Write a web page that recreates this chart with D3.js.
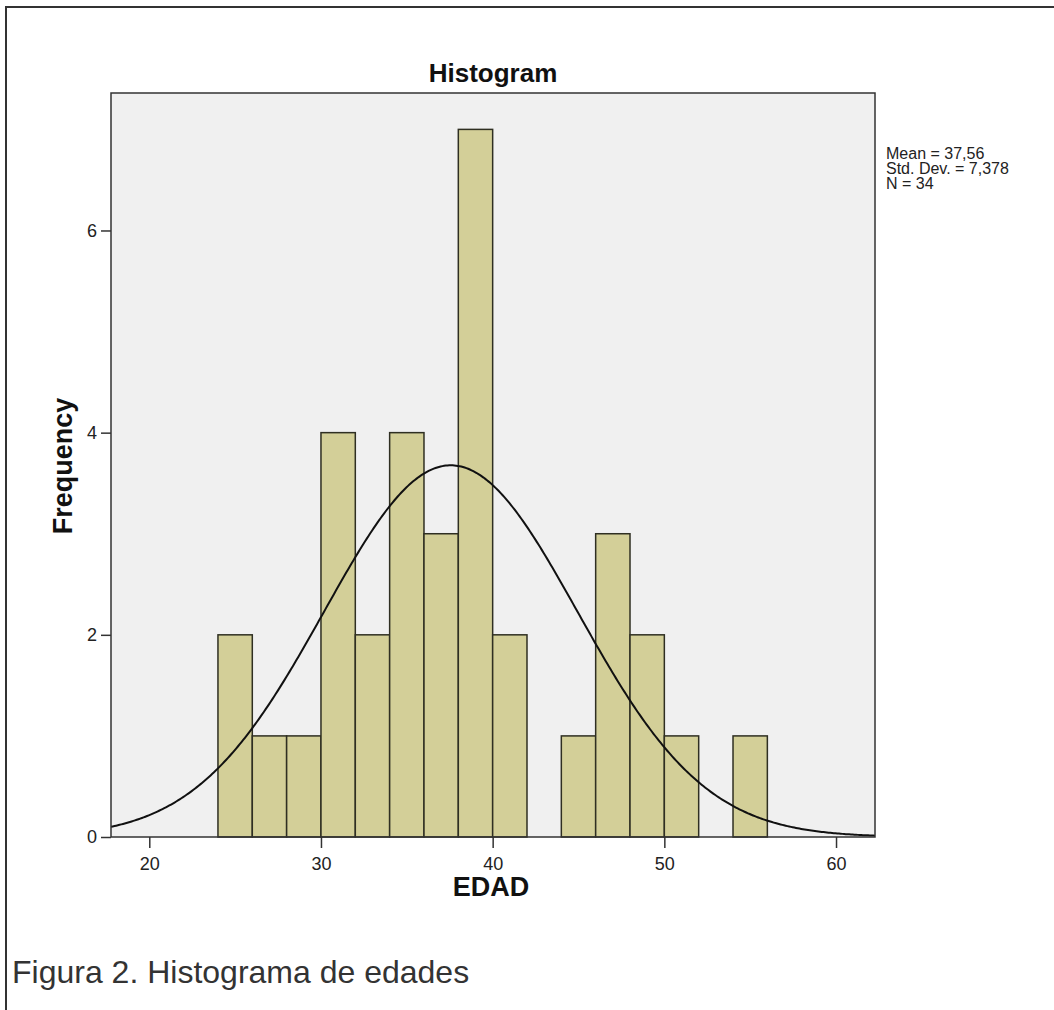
<!DOCTYPE html>
<html>
<head>
<meta charset="utf-8">
<script src="https://cdn.jsdelivr.net/npm/d3@7"></script>
<style>
  body { margin: 0; background: #fff; }
  svg { display: block; font-family: Arial, "Liberation Sans", sans-serif; }
</style>
</head>
<body>
<svg id="chart"></svg>
<script>
// bins of EDAD (start, end) and counts
let binStarts = [24, 26, 28, 30, 32, 34, 36, 38, 40, 42, 44, 46, 48, 50, 52, 54]
let binWidth = 2
let counts = [2, 1, 1, 4, 2, 4, 3, 7, 2, 0, 1, 3, 2, 1, 0, 1]
let xTicks = [20, 30, 40, 50, 60]
let yTicks = [0, 2, 4, 6]
let mean = 37.56
let sd = 7.378
let n = 34
let statsLines = ["Mean = 37,56", "Std. Dev. = 7,378", "N = 34"]

let width = 1054
let height = 1010
let padLeft = 111, padRight = 875, padTop = 93, padBottom = 837

let svg = d3.select('#chart').attr('width', width).attr('height', height)

// outer frame
svg.append('path')
   .attr('d', 'M6,1010 V7 H1054')
   .attr('fill', 'none')
   .attr('stroke', '#333')
   .attr('stroke-width', 2)

let xScale = d3.scaleLinear().domain([17.77, 62.27]).range([padLeft, padRight])
let yScale = d3.scaleLinear().domain([0, 7.36]).range([padBottom, padTop])

svg.append('rect')
   .attr('x', padLeft).attr('y', padTop)
   .attr('width', padRight - padLeft).attr('height', padBottom - padTop)
   .attr('fill', '#f0f0f0')

let bins = binStarts.map((s, i) => ({x0: s, x1: s + binWidth, c: counts[i]}))

svg.selectAll('rect.bar')
   .data(bins.filter(d => d.c > 0))
   .enter()
   .append('rect')
   .attr('class', 'bar')
   .attr('x', d => xScale(d.x0))
   .attr('width', d => xScale(d.x1) - xScale(d.x0))
   .attr('y', d => yScale(d.c))
   .attr('height', d => yScale(0) - yScale(d.c))
   .attr('fill', '#d3cf98')
   .attr('stroke', '#2f2f22')
   .attr('stroke-width', 1.5)

// fitted normal curve
let pdf = x => n * binWidth * Math.exp(-0.5 * ((x - mean) / sd) ** 2) / (sd * Math.sqrt(2 * Math.PI))
let xs = d3.range(17.77, 62.27, 0.1).concat([62.27])
let line = d3.line().x(d => xScale(d)).y(d => yScale(pdf(d)))
svg.append('path')
   .datum(xs)
   .attr('d', line)
   .attr('fill', 'none')
   .attr('stroke', '#111')
   .attr('stroke-width', 2)

// plot border
svg.append('rect')
   .attr('x', padLeft).attr('y', padTop)
   .attr('width', padRight - padLeft).attr('height', padBottom - padTop)
   .attr('fill', 'none')
   .attr('stroke', '#333')
   .attr('stroke-width', 1.5)

let xAxis = d3.axisBottom(xScale).tickValues(xTicks).tickSize(11).tickSizeOuter(0).tickPadding(9)
let gx = svg.append('g')
   .attr('transform', 'translate(0,' + padBottom + ')')
   .call(xAxis)
gx.select('.domain').remove()
gx.selectAll('line').attr('stroke', '#333').attr('stroke-width', 1.5)
gx.selectAll('text').style('font-size', '18px').style('fill', '#222').style('font-family', 'Arial')

let yAxis = d3.axisLeft(yScale).tickValues(yTicks).tickSize(10).tickSizeOuter(0).tickPadding(4)
let gy = svg.append('g')
   .attr('transform', 'translate(' + padLeft + ',0)')
   .call(yAxis)
gy.select('.domain').remove()
gy.selectAll('line').attr('stroke', '#333').attr('stroke-width', 1.5)
gy.selectAll('text').style('font-size', '18px').style('fill', '#222').style('font-family', 'Arial')

svg.append('text')
   .attr('x', 493).attr('y', 82)
   .attr('text-anchor', 'middle')
   .style('font-size', '26px').attr('font-weight', 'bold')
   .attr('fill', '#111')
   .text('Histogram')

svg.append('text')
   .attr('x', 491).attr('y', 896)
   .attr('text-anchor', 'middle')
   .style('font-size', '27px').attr('font-weight', 'bold')
   .attr('fill', '#111')
   .text('EDAD')

svg.append('text')
   .attr('transform', 'translate(72,466) rotate(-90)')
   .attr('text-anchor', 'middle')
   .style('font-size', '27px').attr('font-weight', 'bold')
   .attr('fill', '#111')
   .text('Frequency')

svg.selectAll('text.stats')
   .data(statsLines)
   .enter()
   .append('text')
   .attr('class', 'stats')
   .attr('x', 886)
   .attr('y', (d, i) => 159 + i * 15)
   .style('font-size', '16px')
   .attr('fill', '#222')
   .text(d => d)

svg.append('text')
   .attr('x', 12).attr('y', 983)
   .style('font-size', '32px')
   .attr('fill', '#333')
   .attr('font-family', 'Arial')
   .text('Figura 2. Histograma de edades')
</script>
</body>
</html>
